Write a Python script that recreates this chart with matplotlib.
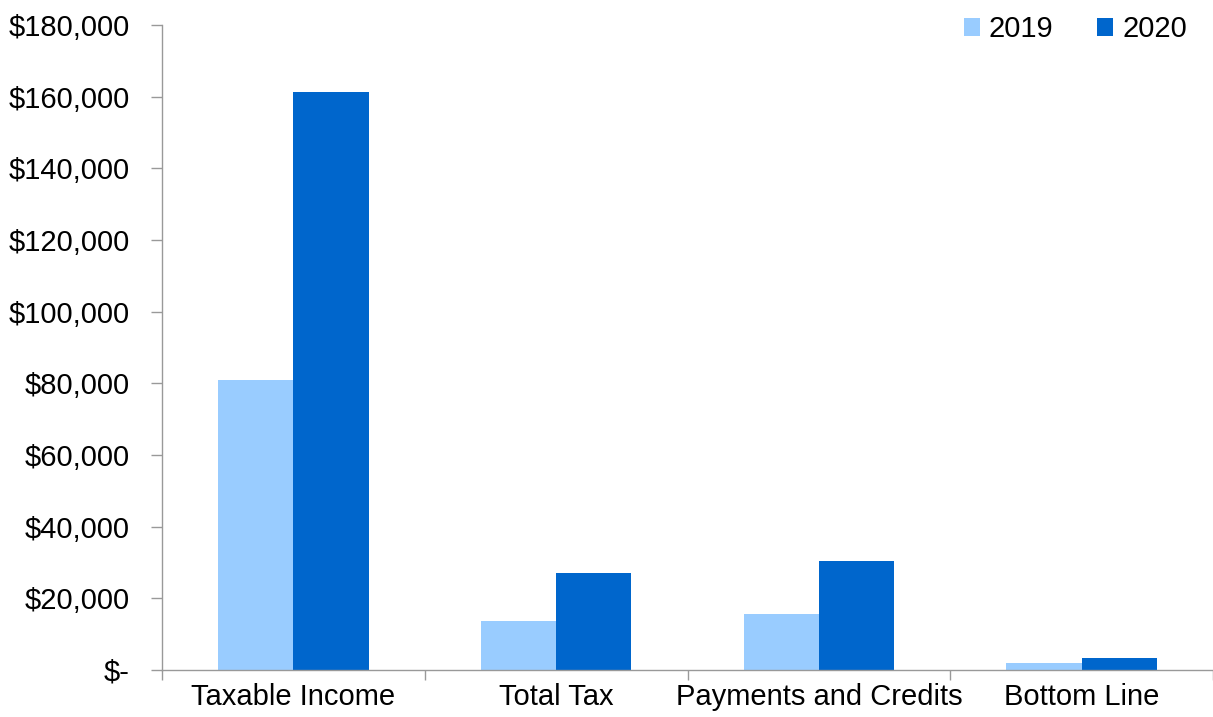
import matplotlib.pyplot as plt
import numpy as np
from matplotlib.ticker import FuncFormatter, FixedLocator

plt.rcParams['font.family'] = ['Liberation Sans', 'DejaVu Sans']

# values
categories = ["Taxable Income", "Total Tax", "Payments and Credits", "Bottom Line"]
values_2019 = [81000, 13700, 15600, 1900]
values_2020 = [161300, 27000, 30500, 3400]
series_labels = ["2019", "2020"]
y_ticks = [0, 20000, 40000, 60000, 80000, 100000, 120000, 140000, 160000, 180000]

color_2019 = "#99CCFF"
color_2020 = "#0066CC"
axis_gray = "#999999"


def money(v, pos):
    if v == 0:
        return "$-"
    return "${:,.0f}".format(v)


fig = plt.figure(figsize=(12.13, 7.17), dpi=100)
ax = fig.add_axes([0.1336, 0.0656, 0.8664, 0.8996])

x = np.arange(len(categories))
width = 0.286
ax.bar(x - width / 2, values_2019, width, color=color_2019, label=series_labels[0])
ax.bar(x + width / 2, values_2020, width, color=color_2020, label=series_labels[1])

ax.set_xlim(-0.5, len(categories) - 0.5)
ax.set_ylim(0, 180000)
ax.set_yticks(y_ticks)
ax.yaxis.set_major_formatter(FuncFormatter(money))

ax.set_xticks(x)
ax.set_xticklabels(categories)
ax.xaxis.set_minor_locator(FixedLocator(np.arange(-0.5, len(categories), 1.0)))
ax.tick_params(axis="x", which="major", length=0, pad=9.5, labelsize=21)
ax.tick_params(axis="x", which="minor", length=7, color=axis_gray, width=1)
ax.tick_params(axis="y", length=8, color=axis_gray, width=1, pad=15.5, labelsize=21)

for side in ["top", "right"]:
    ax.spines[side].set_visible(False)
for side in ["left", "bottom"]:
    ax.spines[side].set_color(axis_gray)
    ax.spines[side].set_linewidth(1)

ax.legend(loc="upper right", bbox_to_anchor=(1.0, 1.015), bbox_transform=fig.transFigure,
          ncol=2, frameon=False, fontsize=21, handlelength=0.55, handleheight=0.55,
          handletextpad=0.3, columnspacing=1.5)

fig.savefig("out.png", dpi=100)
